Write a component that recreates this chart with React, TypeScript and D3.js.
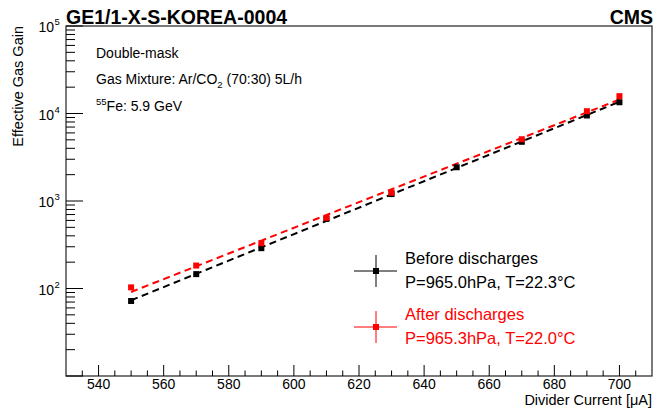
import React from "react";
import * as d3 from "d3";

// Divider current settings [uA]
const currentBefore = [550, 570, 590, 610, 630, 650, 670, 690, 700];
const gainBefore = [72, 146, 289, 625, 1200, 2430, 4750, 9490, 13450];
const currentAfter = [550, 570, 590, 610, 630, 670, 690, 700];
const gainAfter = [103, 183, 330, 643, 1242, 5080, 10620, 15780];

const xTicks = [540, 560, 580, 600, 620, 640, 660, 680, 700];
const yDecades = [10, 100, 1000, 10000, 100000];

const W = 655;
const H = 409;
const M = { left: 66, right: 3, top: 26, bottom: 33 };
const FONT = "'Liberation Sans', Arial, Helvetica, sans-serif";

const x = d3.scaleLinear().domain([530, 710]).range([M.left, W - M.right]);
const y = d3.scaleLog().domain([10, 100000]).range([H - M.bottom, M.top]);

// Exponential fit: least squares on log10(gain)
function expFit(xs: number[], ys: number[]) {
  const ly = ys.map((v) => Math.log10(v));
  const mx = d3.mean(xs)!;
  const my = d3.mean(ly)!;
  let sxy = 0;
  let sxx = 0;
  xs.forEach((v, i) => {
    sxy += (v - mx) * (ly[i] - my);
    sxx += (v - mx) * (v - mx);
  });
  const b = sxy / sxx;
  const a = my - b * mx;
  return (v: number) => Math.pow(10, a + b * v);
}

function FitLine({ xs, ys, color }: { xs: number[]; ys: number[]; color: string }) {
  const f = expFit(xs, ys);
  const x0 = d3.min(xs)!;
  const x1 = d3.max(xs)!;
  const line = d3
    .line<number>()
    .x((v) => x(v))
    .y((v) => y(f(v)));
  return (
    <path d={line([x0, x1]) || ""} fill="none" stroke={color} strokeWidth={2} strokeDasharray="7,4.5" />
  );
}

function Markers({ xs, ys, color }: { xs: number[]; ys: number[]; color: string }) {
  const s = 6;
  return (
    <g>
      {xs.map((v, i) => (
        <rect key={i} x={x(v) - s / 2} y={y(ys[i]) - s / 2} width={s} height={s} fill={color} />
      ))}
    </g>
  );
}

function LegendEntry({ cy, color, line1, line2 }: { cy: number; color: string; line1: string; line2: string }) {
  const cx = 376;
  return (
    <g>
      <line x1={354} x2={397} y1={cy} y2={cy} stroke={color} strokeWidth={1} />
      <line x1={cx} x2={cx} y1={cy - 16} y2={cy + 16} stroke={color} strokeWidth={1} />
      <rect x={cx - 3} y={cy - 3} width={6} height={6} fill={color} />
      <text x={405} y={cy - 7.5} fontSize={16.5} fill={color}>{line1}</text>
      <text x={405} y={cy + 17} fontSize={16.5} fill={color}>{line2}</text>
    </g>
  );
}

export default function App() {
  const xMinor = d3.range(535, 710, 5).filter((v) => v % 20 !== 0);
  const yMinor: number[] = [];
  yDecades.slice(0, -1).forEach((d) => {
    for (let k = 2; k <= 9; k++) yMinor.push(d * k);
  });
  const yBottom = H - M.bottom;

  return (
    <svg
      width={W}
      height={H}
      style={{ position: "absolute", left: 0, top: 0, background: "#fff" }}
      fontFamily={FONT}
    >
      <rect x={0} y={0} width={W} height={H} fill="#fff" />

      {/* frame */}
      <rect
        x={M.left}
        y={M.top}
        width={W - M.left - M.right}
        height={H - M.top - M.bottom}
        fill="none"
        stroke="#222"
        strokeWidth={1.2}
      />

      {/* x axis ticks */}
      {xTicks.map((t) => (
        <line key={"xm" + t} x1={x(t)} x2={x(t)} y1={yBottom} y2={yBottom - 11} stroke="#000" />
      ))}
      {xMinor.map((t) => (
        <line key={"xn" + t} x1={x(t)} x2={x(t)} y1={yBottom} y2={yBottom - 5.5} stroke="#000" />
      ))}
      {xTicks.map((t) => (
        <text key={"xl" + t} x={x(t)} y={389} fontSize={14} textAnchor="middle">
          {t}
        </text>
      ))}
      <text x={652} y={405} fontSize={14.5} textAnchor="end">
        Divider Current [μA]
      </text>

      {/* y axis ticks */}
      {yDecades.map((t) => (
        <line key={"ym" + t} x1={M.left} x2={M.left + 17} y1={y(t)} y2={y(t)} stroke="#000" />
      ))}
      {yMinor.map((t) => (
        <line key={"yn" + t} x1={M.left} x2={M.left + 9} y1={y(t)} y2={y(t)} stroke="#000" />
      ))}
      {yDecades.slice(1).map((t) => (
        <text key={"yl" + t} x={54} y={y(t) + 6} fontSize={14} textAnchor="end">
          10
        </text>
      ))}
      {yDecades.slice(1).map((t) => (
        <text key={"ys" + t} x={54.5} y={y(t) - 1} fontSize={9.5} textAnchor="start">
          {Math.round(Math.log10(t))}
        </text>
      ))}
      <text
        transform={`translate(23,${M.top}) rotate(-90)`}
        fontSize={14.5}
        textAnchor="end"
      >
        Effective Gas Gain
      </text>

      {/* fits and points */}
      <FitLine xs={currentBefore} ys={gainBefore} color="#000" />
      <FitLine xs={currentAfter} ys={gainAfter} color="#ff0000" />
      <Markers xs={currentBefore} ys={gainBefore} color="#000" />
      <Markers xs={currentAfter} ys={gainAfter} color="#ff0000" />

      {/* headers */}
      <text x={66} y={24} fontSize={19.5} fontWeight="bold">
        GE1/1-X-S-KOREA-0004
      </text>
      <text x={653} y={24} fontSize={19.5} fontWeight="bold" textAnchor="end">
        CMS
      </text>

      {/* info text */}
      <text x={96} y={58} fontSize={14}>Double-mask</text>
      <text x={96} y={84} fontSize={14}>
        Gas Mixture: Ar/CO
        <tspan fontSize={9.5} dy={4}>2</tspan>
        <tspan dy={-4}> (70:30) 5L/h</tspan>
      </text>
      <text x={96} y={111} fontSize={14}>
        <tspan fontSize={9.5} dy={-6}>55</tspan>
        <tspan dy={6}>Fe: 5.9 GeV</tspan>
      </text>

      {/* legend */}
      <LegendEntry cy={271} color="#000" line1="Before discharges" line2="P=965.0hPa, T=22.3°C" />
      <LegendEntry cy={327} color="#ff0000" line1="After discharges" line2="P=965.3hPa, T=22.0°C" />
    </svg>
  );
}
